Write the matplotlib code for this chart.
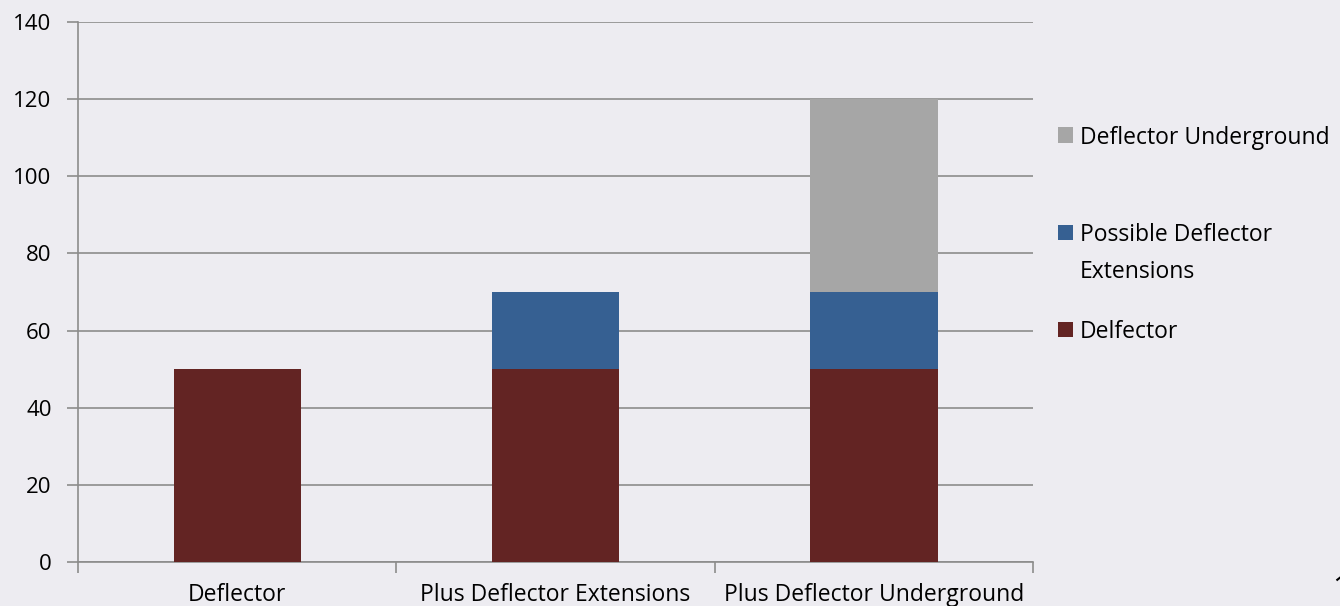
import matplotlib.pyplot as plt
from matplotlib.patches import Rectangle
import numpy as np

categories = ["Deflector", "Plus Deflector Extensions", "Plus Deflector Underground"]
delfector = [50, 50, 50]
extensions = [0, 20, 20]
underground = [0, 0, 50]
labels = ["Delfector", "Possible Deflector\nExtensions", "Deflector Underground"]
colors = ["#632423", "#366092", "#A6A6A6"]

bg = "#EDECF1"
grid_c = "#8C8C8C"
W, H = 1340, 606

plt.rcParams["font.family"] = ["Open Sans", "DejaVu Sans"]

fig = plt.figure(figsize=(13.4, 6.06), dpi=100, facecolor=bg)
ax = fig.add_axes([78 / W, 1 - 562 / H, (1033 - 78) / W, (562 - 22) / H])
ax.set_facecolor(bg)

x = np.arange(len(categories))
b1 = ax.bar(x, delfector, width=0.4, color=colors[0], zorder=3)
b2 = ax.bar(x, extensions, width=0.4, bottom=delfector, color=colors[1], zorder=3)
bottom2 = [a + b for a, b in zip(delfector, extensions)]
b3 = ax.bar(x, underground, width=0.4, bottom=bottom2, color=colors[2], zorder=3)

ax.set_xlim(-0.5, 2.5)
ax.set_ylim(0, 140)
ax.set_yticks(range(0, 141, 20))
ax.yaxis.grid(True, color=grid_c, linewidth=1.2, zorder=0)

ax.set_xticks(x)
ax.set_xticklabels(categories, fontsize=16.5)
ax.set_xticks([-0.5, 0.5, 1.5, 2.5], minor=True)
ax.tick_params(axis="x", which="major", length=0, pad=15)
ax.tick_params(axis="x", which="minor", length=8, color=grid_c, width=1.2)
ax.tick_params(axis="y", length=8, color=grid_c, width=1.2, labelsize=16, pad=11)

for s in ["top", "right"]:
    ax.spines[s].set_visible(False)
for s in ["left", "bottom"]:
    ax.spines[s].set_color(grid_c)
    ax.spines[s].set_linewidth(1.2)

# legend, placed by hand like the original (reverse order)
legend_y = [329, 232, 135]
for lab, col, yc in zip(labels, colors, legend_y):
    fig.patches.append(Rectangle((1058 / W, 1 - (yc + 7.5) / H), 15 / W, 15 / H,
                                 transform=fig.transFigure, facecolor=col,
                                 edgecolor="none"))
    fig.text(1080 / W, 1 - (yc - 9) / H, lab, fontsize=16.5, ha="left", va="top",
             linespacing=1.7)

fig.text(1332 / W, 1 - 597 / H, "1", fontsize=22, ha="left", va="baseline")

fig.savefig("out.png", dpi=100, facecolor=bg)
